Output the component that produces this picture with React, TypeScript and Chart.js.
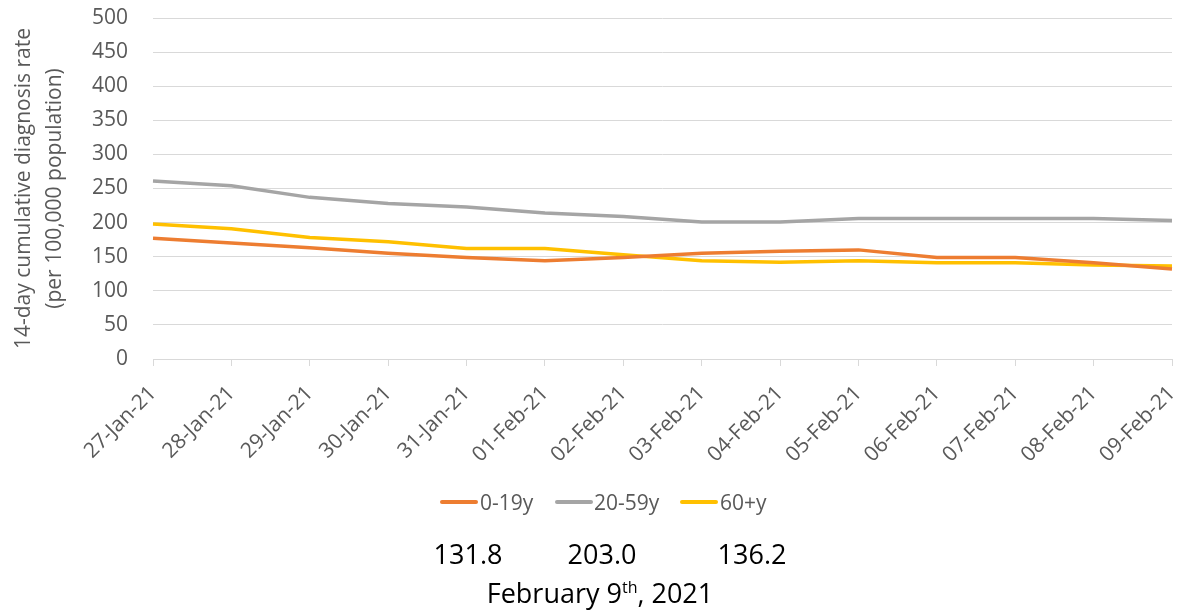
import React, { useEffect, useRef } from "react";
import { Chart, registerables } from "chart.js";

Chart.register(...registerables);

const categories = [
  "27-Jan-21", "28-Jan-21", "29-Jan-21", "30-Jan-21", "31-Jan-21", "01-Feb-21", "02-Feb-21",
  "03-Feb-21", "04-Feb-21", "05-Feb-21", "06-Feb-21", "07-Feb-21", "08-Feb-21", "09-Feb-21",
];
const age0to19 = [177, 170, 163, 155, 149, 144, 149, 155, 158, 160, 149, 149, 141, 131.8];
const age20to59 = [261, 254, 237, 228, 223, 214, 209, 201, 201, 206, 206, 206, 206, 203.0];
const age60plus = [198, 191, 178, 172, 162, 162, 153, 144, 142, 144, 141, 141, 138, 136.2];
const seriesNames = ["0-19y", "20-59y", "60+y"];
const seriesColors = ["#ED7D31", "#A5A5A5", "#FFC000"];
const latestValues = ["131.8", "203.0", "136.2"];
const yAxisTitle = ["14-day cumulative diagnosis rate", "(per 100,000 population)"];

const FONT = "'Open Sans', sans-serif";
const TEXT = "#595959";
const GRID = "#d9d9d9";

export default function App() {
  const canvasRef = useRef<HTMLCanvasElement | null>(null);

  useEffect(() => {
    document.body.style.margin = "0";
    const ctx = canvasRef.current!.getContext("2d")!;
    const mk = (label: string, data: number[], color: string) => ({
      label,
      data,
      borderColor: color,
      backgroundColor: color,
      borderWidth: 3.5,
      pointRadius: 0,
      tension: 0,
      fill: false,
    });
    const chart = new Chart(ctx, {
      type: "line",
      data: {
        labels: categories,
        datasets: [
          mk(seriesNames[0], age0to19, seriesColors[0]),
          mk(seriesNames[1], age20to59, seriesColors[1]),
          mk(seriesNames[2], age60plus, seriesColors[2]),
        ],
      },
      options: {
        animation: false,
        responsive: false,
        maintainAspectRatio: false,
        layout: { padding: { top: 18, right: 12, bottom: 133, left: 0 } },
        plugins: {
          tooltip: { enabled: false },
          legend: { display: false },
        },
        scales: {
          x: {
            offset: false,
            grid: {
              display: true,
              drawOnChartArea: false,
              drawTicks: true,
              tickLength: 7,
              color: GRID,
            },
            border: { display: true, color: GRID },
            ticks: {
              autoSkip: false,
              maxRotation: 45,
              minRotation: 45,
              padding: 15,
              color: TEXT,
              font: { family: FONT, size: 21 },
            },
            afterFit: (scale: any) => {
              scale.height = 120;
              scale.paddingLeft = 0;
              scale.paddingRight = 0;
            },
          },
          y: {
            min: 0,
            max: 500,
            ticks: {
              stepSize: 50,
              padding: 25,
              color: TEXT,
              font: { family: FONT, size: 21 },
            },
            grid: { color: GRID, drawTicks: false },
            border: { display: false },
            title: {
              display: true,
              text: yAxisTitle,
              color: TEXT,
              font: { family: FONT, size: 21, lineHeight: 1.5 },
              padding: { top: 8, bottom: 0 },
            },
            afterFit: (scale: any) => {
              scale.width = 153;
              scale.paddingTop = 0;
              scale.paddingBottom = 0;
            },
          },
        },
      },
    });
    return () => chart.destroy();
  }, []);

  const numStyle: React.CSSProperties = {
    position: "absolute",
    top: 553,
    transform: "translate(-50%, -50%)",
    fontFamily: FONT,
    fontSize: 27,
    color: "#000",
    whiteSpace: "nowrap",
    lineHeight: 1,
  };

  const legendPos = [
    { line: 440, text: 480 },
    { line: 555, text: 594 },
    { line: 680, text: 720 },
  ];

  return (
    <div style={{ position: "relative", width: 1184, height: 612, background: "#fff", overflow: "hidden" }}>
      <canvas ref={canvasRef} width={1184} height={612} style={{ position: "absolute", left: 0, top: 0 }} />
      {seriesNames.map((name, i) => (
        <React.Fragment key={name}>
          <div
            style={{
              position: "absolute",
              left: legendPos[i].line,
              top: 500,
              width: 38,
              height: 4,
              borderRadius: 2,
              background: seriesColors[i],
            }}
          />
          <div
            style={{
              position: "absolute",
              left: legendPos[i].text,
              top: 502,
              transform: "translateY(-50%)",
              fontFamily: FONT,
              fontSize: 21,
              color: TEXT,
              lineHeight: 1,
              whiteSpace: "nowrap",
            }}
          >
            {name}
          </div>
        </React.Fragment>
      ))}
      <div style={{ ...numStyle, left: 468 }}>{latestValues[0]}</div>
      <div style={{ ...numStyle, left: 602 }}>{latestValues[1]}</div>
      <div style={{ ...numStyle, left: 752 }}>{latestValues[2]}</div>
      <div style={{ ...numStyle, top: 592, left: 600 }}>
        February 9<sup style={{ fontSize: 16, verticalAlign: "super", lineHeight: 0 }}>th</sup>, 2021
      </div>
    </div>
  );
}
